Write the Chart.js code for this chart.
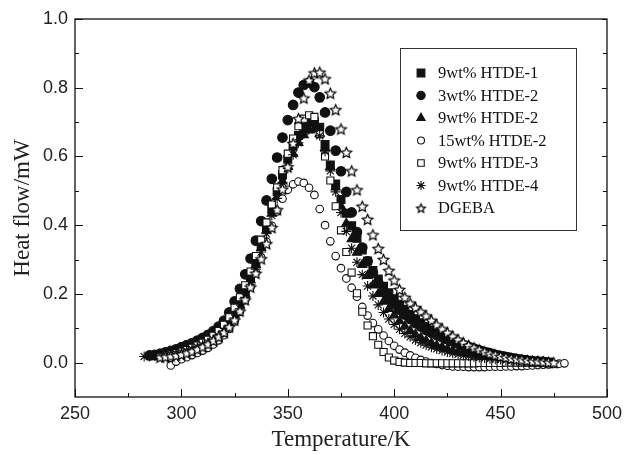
<!DOCTYPE html>
<html lang="en">
<head>
<meta charset="UTF-8">
<title>Heat flow vs temperature</title>
<script src="https://cdn.jsdelivr.net/npm/chart.js"></script>
<style>
  html, body { margin: 0; padding: 0; background: #fff; }
</style>
</head>
<body>
<canvas id="myChart" width="628" height="455"></canvas>
<script>
// temperature grid (K), shared by all series
var temps = [
  282.5, 285, 287.5, 290, 292.5, 295, 297.5, 300, 302.5, 305,
  307.5, 310, 312.5, 315, 317.5, 320, 322.5, 325, 327.5, 330,
  332.5, 335, 337.5, 340, 342.5, 345, 347.5, 350, 352.5, 355,
  357.5, 360, 362.5, 365, 367.5, 370, 372.5, 375, 377.5, 380,
  382.5, 385, 387.5, 390, 392.5, 395, 397.5, 400, 402.5, 405,
  407.5, 410, 412.5, 415, 417.5, 420, 422.5, 425, 427.5, 430,
  432.5, 435, 437.5, 440, 442.5, 445, 447.5, 450, 452.5, 455,
  457.5, 460, 462.5, 465, 467.5, 470, 472.5, 475, 477.5, 480
];

// heat flow (mW), null = no point
var htde1_9 = [
  null, null, 0.020, 0.022, 0.025, 0.028, 0.032, 0.037, 0.042, 0.048,
  0.054, 0.061, 0.069, 0.079, 0.091, 0.106, 0.124, 0.146, 0.174, 0.208,
  0.248, 0.293, 0.342, 0.393, 0.445, 0.497, 0.547, 0.592, 0.630, 0.661,
  0.684, 0.698, 0.702, 0.685, 0.635, 0.575, 0.520, 0.475, 0.435, 0.398,
  0.362, 0.328, 0.296, 0.268, 0.243, 0.222, 0.203, 0.186, 0.170, 0.155,
  0.141, 0.128, 0.116, 0.105, 0.095, 0.085, 0.076, 0.068, 0.061, 0.055,
  0.049, 0.044, 0.039, 0.035, 0.031, 0.027, 0.023, 0.020, 0.017, 0.014,
  0.011, 0.009, 0.007, 0.005, 0.004, 0.003, 0.002, null, null, null
];
var htde2_3 = [
  null, 0.021, 0.023, 0.026, 0.030, 0.034, 0.039, 0.045, 0.051, 0.057,
  0.064, 0.072, 0.081, 0.092, 0.105, 0.122, 0.146, 0.178, 0.215, 0.257,
  0.303, 0.355, 0.412, 0.472, 0.535, 0.597, 0.655, 0.706, 0.750, 0.786,
  0.808, 0.815, 0.802, 0.772, 0.728, 0.675, 0.617, 0.557, 0.497, 0.437,
  0.380, 0.335, 0.295, 0.262, 0.233, 0.208, 0.188, 0.170, 0.154, 0.140,
  0.127, 0.115, 0.105, 0.095, 0.087, 0.080, 0.074, 0.068, 0.062, 0.057,
  0.051, 0.046, 0.041, 0.036, 0.031, 0.027, 0.023, 0.019, 0.016, 0.013,
  0.010, 0.008, 0.006, 0.004, 0.003, 0.002, null, null, null, null
];
var htde2_9 = [
  null, null, 0.019, 0.021, 0.024, 0.027, 0.031, 0.035, 0.040, 0.046,
  0.052, 0.059, 0.067, 0.077, 0.088, 0.102, 0.119, 0.140, 0.167, 0.200,
  0.240, 0.285, 0.334, 0.385, 0.434, 0.482, 0.528, 0.570, 0.608, 0.640,
  0.662, 0.676, 0.680, 0.665, 0.625, 0.570, 0.510, 0.455, 0.405, 0.360,
  0.320, 0.285, 0.253, 0.225, 0.200, 0.178, 0.157, 0.138, 0.121, 0.106,
  0.093, 0.082, 0.072, 0.064, 0.057, 0.050, 0.045, 0.040, 0.035, 0.031,
  0.028, 0.025, 0.022, 0.019, 0.017, 0.015, 0.013, 0.011, 0.009, 0.008,
  0.006, 0.005, 0.004, 0.003, 0.002, 0.001, null, null, null, null
];
var htde2_15 = [
  null, null, null, null, null, -0.008, 0.003, 0.010, 0.016, 0.022,
  0.028, 0.035, 0.043, 0.053, 0.065, 0.080, 0.098, 0.120, 0.148, 0.182,
  0.220, 0.262, 0.306, 0.352, 0.398, 0.440, 0.477, 0.503, 0.519, 0.527,
  0.523, 0.509, 0.488, 0.447, 0.400, 0.353, 0.310, 0.275, 0.245, 0.218,
  0.192, 0.162, 0.137, 0.115, 0.097, 0.079, 0.063, 0.049, 0.038, 0.029,
  0.021, 0.014, 0.008, 0.003, -0.001, -0.004, -0.007, -0.009, -0.011, -0.012,
  -0.012, -0.013, -0.013, -0.013, -0.013, -0.012, -0.012, -0.012, -0.011, -0.011,
  -0.010, -0.010, -0.009, -0.008, -0.007, -0.006, -0.005, -0.004, -0.003, -0.002
];
var htde3_9 = [
  null, null, null, 0.019, 0.021, 0.024, 0.028, 0.032, 0.037, 0.043,
  0.050, 0.058, 0.067, 0.078, 0.092, 0.110, 0.132, 0.160, 0.190, 0.225,
  0.265, 0.310, 0.358, 0.408, 0.460, 0.510, 0.560, 0.608, 0.652, 0.688,
  0.710, 0.720, 0.715, 0.665, 0.600, 0.530, 0.455, 0.385, 0.322, 0.262,
  0.202, 0.148, 0.108, 0.077, 0.052, 0.031, 0.015, 0.006, 0.002, 0.000,
  -0.001, -0.001, -0.001, -0.002, -0.002, -0.002, -0.002, -0.002, -0.002, -0.002,
  -0.002, -0.002, -0.002, -0.001, -0.001, -0.001, -0.001, -0.001, 0.000, 0.000,
  0.000, 0.000, 0.000, 0.000, 0.000, 0.000, null, null, null, null
];
var htde4_9 = [
  0.018, 0.018, 0.019, 0.020, 0.022, 0.024, 0.027, 0.030, 0.034, 0.039,
  0.045, 0.051, 0.058, 0.067, 0.078, 0.092, 0.109, 0.130, 0.157, 0.190,
  0.228, 0.272, 0.322, 0.375, 0.428, 0.478, 0.524, 0.565, 0.605, 0.640,
  0.665, 0.680, 0.682, 0.660, 0.615, 0.558, 0.497, 0.437, 0.382, 0.333,
  0.292, 0.256, 0.223, 0.194, 0.168, 0.146, 0.127, 0.111, 0.097, 0.085,
  0.075, 0.066, 0.058, 0.051, 0.045, 0.040, 0.035, 0.031, 0.027, 0.024,
  0.021, 0.019, 0.017, 0.015, 0.013, 0.011, 0.010, 0.009, 0.008, 0.007,
  0.006, 0.005, 0.004, 0.003, 0.003, 0.002, 0.001, null, null, null
];
var dgeba = [
  null, null, null, 0.016, 0.017, 0.019, 0.021, 0.024, 0.028, 0.033,
  0.039, 0.046, 0.054, 0.064, 0.075, 0.088, 0.104, 0.124, 0.150, 0.183,
  0.220, 0.260, 0.302, 0.346, 0.393, 0.445, 0.505, 0.570, 0.638, 0.710,
  0.770, 0.822, 0.843, 0.845, 0.826, 0.784, 0.736, 0.680, 0.612, 0.558,
  0.503, 0.455, 0.417, 0.372, 0.332, 0.300, 0.268, 0.240, 0.213, 0.190,
  0.173, 0.160, 0.148, 0.136, 0.123, 0.110, 0.098, 0.087, 0.077, 0.067,
  0.058, 0.050, 0.043, 0.037, 0.031, 0.026, 0.022, 0.018, 0.015, 0.012,
  0.010, 0.008, 0.006, 0.004, 0.003, 0.002, 0.001, 0.000, null, null
];

var seriesNames = ['9wt% HTDE-1', '3wt% HTDE-2', '9wt% HTDE-2', '15wt% HTDE-2', '9wt% HTDE-3', '9wt% HTDE-4', 'DGEBA'];

var xTicks = [250, 300, 350, 400, 450, 500];
var xMinor = [275, 325, 375, 425, 475];
var yTicks = [0.0, 0.2, 0.4, 0.6, 0.8, 1.0];
var yMinor = [0.1, 0.3, 0.5, 0.7, 0.9];

function toPoints(vals) {
    var pts = [];
    for (var i = 0; i < temps.length; i++) {
        if (vals[i] !== null) pts.push({ x: temps[i], y: vals[i] });
    }
    return pts;
}

// open five-pointed star marker
function makeStar(r) {
    var c = document.createElement('canvas');
    var s = Math.ceil(r * 2 + 3);
    c.width = s;
    c.height = s;
    var g = c.getContext('2d');
    g.translate(s / 2, s / 2 + 0.6);
    g.beginPath();
    for (var k = 0; k < 10; k++) {
        var rad = k % 2 ? r * 0.47 : r;
        var a = -Math.PI / 2 + k * Math.PI / 5;
        g.lineTo(rad * Math.cos(a), rad * Math.sin(a));
    }
    g.closePath();
    g.fillStyle = '#fff';
    g.fill();
    g.strokeStyle = '#000';
    g.lineWidth = 1.2;
    g.stroke();
    return c;
}
var starImg = makeStar(5.6);
var starImgSmall = makeStar(4.6);

var ink = '#111';
var styles = [
    { pointStyle: 'rect', pointRadius: 5.6, backgroundColor: ink },
    { pointStyle: 'circle', pointRadius: 4.8, backgroundColor: ink },
    { pointStyle: 'triangle', pointRadius: 5.3, backgroundColor: ink },
    { pointStyle: 'circle', pointRadius: 3.8, backgroundColor: '#fff' },
    { pointStyle: 'rect', pointRadius: 5, backgroundColor: '#fff' },
    { pointStyle: 'star', pointRadius: 5, backgroundColor: ink },
    { pointStyle: starImg, pointRadius: 5.6, backgroundColor: '#fff' }
];
// legend markers are drawn a bit smaller than the data markers
var legendStyles = ['rect', 'circle', 'triangle', 'circle', 'rect', 'star', starImgSmall];
var legendRadius = [5.5, 4.2, 4.8, 3.5, 4.6, 4.6, 4.6];
var allSeries = [htde1_9, htde2_3, htde2_9, htde2_15, htde3_9, htde4_9, dgeba];

var datasets = allSeries.map(function (vals, i) {
    return {
        label: seriesNames[i],
        data: toPoints(vals),
        pointStyle: styles[i].pointStyle,
        pointRadius: styles[i].pointRadius,
        backgroundColor: styles[i].backgroundColor,
        borderColor: ink,
        borderWidth: 1.1,
        order: 7 - i
    };
});

// box and inward ticks
var framePlugin = {
    id: 'frame',
    afterDatasetsDraw: function (chart) {
        var ctx = chart.ctx, a = chart.chartArea;
        var x = chart.scales.x, y = chart.scales.y;
        ctx.save();
        ctx.strokeStyle = '#111';
        ctx.lineWidth = 1.3;
        ctx.strokeRect(a.left, a.top, a.right - a.left, a.bottom - a.top);
        ctx.lineWidth = 1;
        ctx.beginPath();
        xTicks.forEach(function (v) {
            var px = Math.round(x.getPixelForValue(v)) + 0.5;
            ctx.moveTo(px, a.bottom); ctx.lineTo(px, a.bottom - 8);
        });
        xMinor.forEach(function (v) {
            var px = Math.round(x.getPixelForValue(v)) + 0.5;
            ctx.moveTo(px, a.bottom); ctx.lineTo(px, a.bottom - 4);
        });
        yTicks.forEach(function (v) {
            var py = Math.round(y.getPixelForValue(v)) + 0.5;
            ctx.moveTo(a.left, py); ctx.lineTo(a.left + 8, py);
            ctx.moveTo(a.right, py); ctx.lineTo(a.right - 5, py);
        });
        yMinor.forEach(function (v) {
            var py = Math.round(y.getPixelForValue(v)) + 0.5;
            ctx.moveTo(a.left, py); ctx.lineTo(a.left + 4, py);
            ctx.moveTo(a.right, py); ctx.lineTo(a.right - 4, py);
        });
        ctx.stroke();
        ctx.restore();
    }
};

// boxed legend in the upper right
var legendPlugin = {
    id: 'boxLegend',
    afterDraw: function (chart) {
        var ctx = chart.ctx;
        ctx.save();
        ctx.strokeStyle = '#333';
        ctx.lineWidth = 1;
        ctx.strokeRect(400.5, 48.5, 176, 182);
        ctx.font = '16.5px "Liberation Serif"';
        ctx.textBaseline = 'middle';
        chart.data.datasets.forEach(function (ds, i) {
            var yy = 73 + i * 22.5;
            ctx.fillStyle = ds.backgroundColor;
            ctx.strokeStyle = ds.borderColor;
            ctx.lineWidth = 1.1;
            Chart.helpers.drawPoint(ctx, {
                pointStyle: legendStyles[i],
                radius: legendRadius[i],
                rotation: 0,
                borderWidth: 1
            }, 421, yy);
            ctx.fillStyle = '#111';
            ctx.fillText(ds.label, 438, yy + 1);
        });
        ctx.restore();
    }
};

var tickFont = { family: 'Liberation Sans', size: 18 };
var titleFont = { family: 'Liberation Serif', size: 23 };

new Chart(document.getElementById('myChart'), {
    type: 'scatter',
    data: { datasets: datasets },
    options: {
        responsive: false,
        animation: false,
        events: [],
        layout: { padding: { top: 19, right: 16, left: 0, bottom: 0 } },
        plugins: { legend: { display: false }, tooltip: { enabled: false } },
        scales: {
            x: {
                type: 'linear',
                min: 250,
                max: 500,
                afterBuildTicks: function (s) { s.ticks = xTicks.map(function (v) { return { value: v }; }); },
                afterFit: function (s) { s.height = 58; },
                grid: { display: false, drawTicks: false },
                border: { display: false },
                ticks: { padding: 6, color: '#222', font: tickFont, maxRotation: 0, autoSkip: false },
                title: { display: true, text: 'Temperature/K', color: '#222', font: titleFont, padding: { top: 0, bottom: 1 } }
            },
            y: {
                type: 'linear',
                min: -0.1,
                max: 1.0,
                afterBuildTicks: function (s) { s.ticks = yTicks.map(function (v) { return { value: v }; }); },
                afterFit: function (s) { s.width = 75; },
                grid: { display: false, drawTicks: false },
                border: { display: false },
                ticks: {
                    padding: 7, color: '#222', font: tickFont,
                    callback: function (v) { return v.toFixed(1); }
                },
                title: { display: true, text: 'Heat flow/mW', color: '#222', font: titleFont, padding: { top: 9, bottom: 0 } }
            }
        }
    },
    plugins: [framePlugin, legendPlugin]
});
</script>
</body>
</html>
